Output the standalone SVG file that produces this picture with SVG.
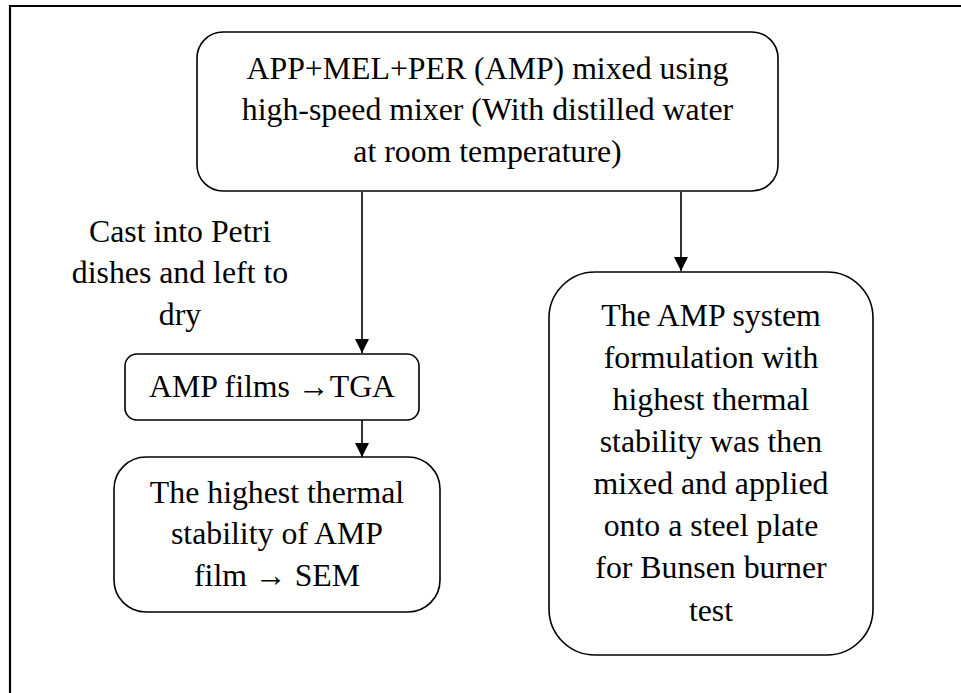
<svg xmlns="http://www.w3.org/2000/svg" width="961" height="693" viewBox="0 0 961 693">
<style>
  .box { fill: #ffffff; stroke: #000000; stroke-width: 1.6; }
  .frame { fill: none; stroke: #000000; stroke-width: 2.2; }
  .conn { fill: none; stroke: #000000; stroke-width: 1.6; }
  text { font-family: 'Liberation Serif', 'Times New Roman', serif; font-size: 31.8px; fill: #000000; text-anchor: middle; }
</style>
<defs>
  <marker id="arrow" viewBox="0 0 14 14" refX="14" refY="7" markerWidth="14" markerHeight="14" markerUnits="userSpaceOnUse" orient="auto">
    <path d="M0,0 L14,7 L0,14 z" fill="#000000"/>
  </marker>
</defs>
<rect width="961" height="693" fill="#ffffff"/>
<path class="frame" d="M10,693 L10,6 L961,6"/>

<g id="connectors">
  <line class="conn" x1="362" y1="192" x2="362" y2="353" marker-end="url(#arrow)"/>
  <line class="conn" x1="681" y1="192" x2="681" y2="271" marker-end="url(#arrow)"/>
  <line class="conn" x1="362" y1="420" x2="362" y2="457" marker-end="url(#arrow)"/>
  <g id="label-cast">
    <text x="180" y="242">Cast into Petri</text>
    <text x="180" y="283">dishes and left to</text>
    <text x="180" y="325">dry</text>
  </g>
</g>

<g id="node-mix">
  <rect class="box" x="197" y="32" width="581" height="159" rx="26" ry="26"/>
  <text x="487.5" y="79">APP+MEL+PER (AMP) mixed using</text>
  <text x="487.5" y="120">high-speed mixer (With distilled water</text>
  <text x="487.5" y="162">at room temperature)</text>
</g>

<g id="node-tga">
  <rect class="box" x="125" y="354" width="294" height="66" rx="12" ry="12"/>
  <text x="272" y="397">AMP films →TGA</text>
</g>

<g id="node-sem">
  <rect class="box" x="114" y="457" width="326" height="155" rx="32" ry="32"/>
  <text x="277" y="503">The highest thermal</text>
  <text x="277" y="544">stability of AMP</text>
  <text x="277" y="586">film → SEM</text>
</g>

<g id="node-bunsen">
  <rect class="box" x="549" y="272" width="324" height="383" rx="46" ry="46"/>
  <text x="711" y="326">The AMP system</text>
  <text x="711" y="368">formulation with</text>
  <text x="711" y="410">highest thermal</text>
  <text x="711" y="452">stability was then</text>
  <text x="711" y="494">mixed and applied</text>
  <text x="711" y="536">onto a steel plate</text>
  <text x="711" y="578">for Bunsen burner</text>
  <text x="711" y="621">test</text>
</g>
</svg>
